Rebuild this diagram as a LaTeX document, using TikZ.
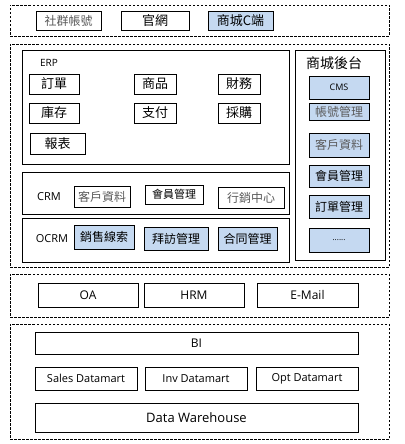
\documentclass[tikz,border=0pt]{standalone}
\usepackage{fontspec}
\setmainfont{Open Sans}
\newfontfamily\cjk{Noto Sans CJK TC}
\definecolor{lblue}{RGB}{197,217,241}
\definecolor{ltxt}{RGB}{90,90,90}
\tikzset{
  base/.style={inner sep=0pt, outer sep=0pt, line width=0.8pt, align=center},
  sbox/.style={base, draw=black},
  bbox/.style={base, draw=black, fill=lblue},
  dbox/.style={base, draw=black, dash pattern=on 2.5pt off 1.5pt},
  lbl/.style={inner sep=0pt, outer sep=0pt}
}
\newcommand\bx[7]{\node[#1, minimum width={(#5-#3)*1pt}, minimum height={(#6-#4)*1pt}] (#2) at ({(#3+#5)/2},{(#4+#6)/2}) {#7};}
\begin{document}
\begin{tikzpicture}[x=1pt,y=-1pt]
\useasboundingbox[fill=white] (0,0) rectangle (404,444);
% outer dashed layers
\bx{dbox}{L1}{10}{5}{389}{36}{}
\bx{dbox}{L2}{10}{44}{389}{267}{}
\bx{dbox}{L3}{10}{274}{389}{317}{}
\bx{dbox}{L4}{10}{324}{389}{439}{}
% top layer
\bx{sbox}{sns}{36}{11}{101}{30}{\cjk\fontsize{12}{12}\selectfont\color{ltxt}社群帳號}
\bx{sbox}{web}{121}{11}{189}{30}{\cjk\fontsize{13}{13}\selectfont 官網}
\bx{bbox}{mall}{208}{11}{273}{30}{\cjk\fontsize{13}{13}\selectfont 商城C端}
% ERP
\bx{sbox}{erp}{22}{50}{289}{164}{}
\node[lbl, font=\fontsize{10}{10}\selectfont] (erpl) at (49,63) {ERP};
\bx{sbox}{e1}{29}{74}{79}{94}{\cjk\fontsize{13}{13}\selectfont 訂單}
\bx{sbox}{e2}{134}{74}{176}{94}{\cjk\fontsize{13}{13}\selectfont 商品}
\bx{sbox}{e3}{218}{74}{260}{94}{\cjk\fontsize{13}{13}\selectfont 財務}
\bx{sbox}{e4}{29}{103}{79}{123}{\cjk\fontsize{13}{13}\selectfont 庫存}
\bx{sbox}{e5}{134}{103}{176}{123}{\cjk\fontsize{13}{13}\selectfont 支付}
\bx{sbox}{e6}{218}{103}{260}{123}{\cjk\fontsize{13}{13}\selectfont 採購}
\bx{sbox}{e7}{30}{133}{85}{154}{\cjk\fontsize{13}{13}\selectfont 報表}
% CRM
\bx{sbox}{crm}{22}{172}{289}{214}{}
\node[lbl, font=\fontsize{11}{11}\selectfont] (crml) at (49,197) {CRM};
\bx{sbox}{c1}{74}{186}{130}{207}{\cjk\fontsize{12}{12}\selectfont\color{ltxt}客戶資料}
\bx{sbox}{c2}{145}{185}{203}{204}{\cjk\fontsize{11}{11}\selectfont 會員管理}
\bx{sbox}{c3}{218}{187}{284}{208}{\cjk\fontsize{12}{12}\selectfont\color{ltxt}行銷中心}
% OCRM
\bx{sbox}{ocrm}{22}{218}{289}{262}{}
\node[lbl, font=\fontsize{11}{11}\selectfont] (ocrml) at (52,239) {OCRM};
\bx{bbox}{o1}{74}{225}{134}{249}{\cjk\fontsize{12}{12}\selectfont 銷售線索}
\bx{bbox}{o2}{144}{227}{208}{250}{\cjk\fontsize{12}{12}\selectfont 拜訪管理}
\bx{bbox}{o3}{218}{227}{277}{250}{\cjk\fontsize{12}{12}\selectfont 合同管理}
% mall backend
\bx{sbox}{back}{295}{50}{385}{260}{}
\node[lbl, font=\cjk\fontsize{14}{14}\selectfont] (backl) at (334,63) {商城後台};
\bx{bbox}{b1}{309}{76}{369}{99}{\fontsize{9}{9}\selectfont CMS}
\bx{bbox}{b2}{309}{103}{369}{120}{\cjk\fontsize{12}{12}\selectfont\color{ltxt}帳號管理}
\bx{bbox}{b3}{309}{133}{369}{157}{\cjk\fontsize{12}{12}\selectfont\color{ltxt}客戶資料}
\bx{bbox}{b4}{309}{165}{369}{187}{\cjk\fontsize{12}{12}\selectfont 會員管理}
\bx{bbox}{b5}{309}{195}{369}{218}{\cjk\fontsize{12}{12}\selectfont 訂單管理}
\bx{bbox}{b6}{309}{228}{369}{252}{\fontsize{8}{8}\selectfont ......}
% office layer
\bx{sbox}{oa}{38}{283}{138}{307}{\fontsize{12}{12}\selectfont OA}
\bx{sbox}{hrm}{144}{283}{244}{307}{\fontsize{12}{12}\selectfont HRM}
\bx{sbox}{mail}{257}{283}{358}{307}{\fontsize{12}{12}\selectfont E-Mail}
% BI layer
\bx{sbox}{bi}{35}{332}{358}{354}{\fontsize{12}{12}\selectfont BI}
\bx{sbox}{sd}{35}{367}{137}{390}{\fontsize{11}{11}\selectfont Sales Datamart}
\bx{sbox}{id}{145}{367}{247}{390}{\fontsize{11}{11}\selectfont Inv Datamart}
\bx{sbox}{od}{256}{367}{358}{390}{\fontsize{11}{11}\selectfont Opt Datamart}
\bx{sbox}{dw}{35}{403}{358}{432}{\fontsize{13}{13}\selectfont Data Warehouse}
\end{tikzpicture}
\end{document}
